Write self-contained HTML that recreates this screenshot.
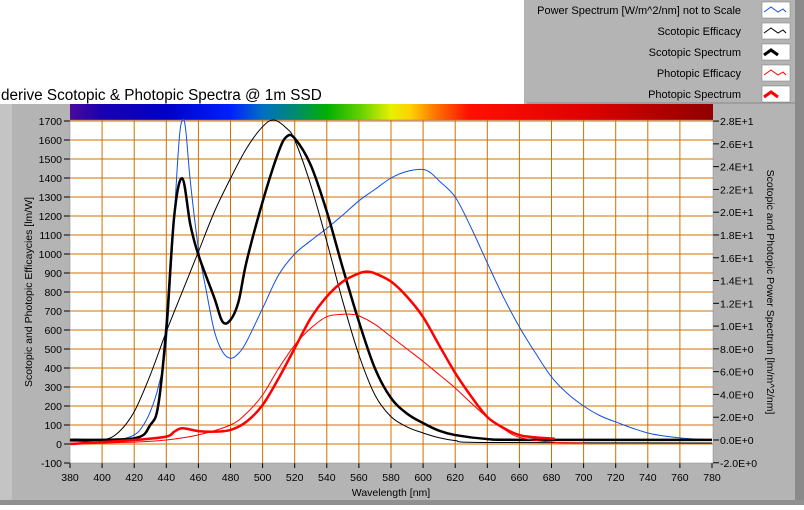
<!DOCTYPE html><html><head><style>
body{margin:0;width:804px;height:505px;overflow:hidden;background:#fff;font-family:"Liberation Sans",sans-serif}
text{font-family:"Liberation Sans",sans-serif}
</style></head><body>
<svg id="s" width="804" height="505" xmlns="http://www.w3.org/2000/svg">
<defs>
<linearGradient id="sp" x1="0" x2="1" y1="0" y2="0">
<stop offset="0" stop-color="#4a0a9a"/><stop offset="0.05" stop-color="#1a00b0"/><stop offset="0.15" stop-color="#0000c8"/>
<stop offset="0.25" stop-color="#0020ff"/><stop offset="0.3" stop-color="#0070c0"/><stop offset="0.35" stop-color="#008a70"/>
<stop offset="0.4" stop-color="#00b000"/><stop offset="0.45" stop-color="#60d000"/><stop offset="0.5" stop-color="#e8f000"/>
<stop offset="0.53" stop-color="#ffd000"/><stop offset="0.57" stop-color="#ff7000"/><stop offset="0.62" stop-color="#ff1000"/>
<stop offset="0.8" stop-color="#e00000"/><stop offset="1" stop-color="#900000"/></linearGradient>
</defs>
<rect x="0" y="104" width="804" height="401" fill="#b4b4b4"/>
<rect x="0" y="104" width="12" height="401" fill="#c4c4c4"/>
<rect x="795" y="104" width="9" height="401" fill="#8a8a8a"/>
<rect x="0" y="500" width="804" height="5" fill="#909090"/>
<rect x="524" y="0" width="280" height="104" fill="#b4b4b4"/>
<rect x="795" y="0" width="9" height="104" fill="#8a8a8a"/>
<line x1="527" y1="103" x2="795" y2="103" stroke="#888"/>
<text x="1" y="100" font-size="15.3">derive Scotopic &amp; Photopic Spectra @ 1m SSD</text>
<g font-size="11" text-anchor="end">
<text x="741" y="14">Power Spectrum [W/m^2/nm] not to Scale</text>
<text x="741" y="35">Scotopic Efficacy</text>
<text x="741" y="56">Scotopic Spectrum</text>
<text x="741" y="77">Photopic Efficacy</text>
<text x="741" y="98">Photopic Spectrum</text>
</g>
<g fill="#fff" stroke="#777" stroke-width="0.5">
<rect x="762" y="2" width="28" height="16"/><rect x="762" y="23" width="28" height="16"/><rect x="762" y="44" width="28" height="16"/><rect x="762" y="65" width="28" height="16"/><rect x="762" y="86" width="28" height="16"/></g>
<g fill="none">
<polyline points="764,12 771,7 778,12 783,9 786,12" stroke="#1050e0"/>
<polyline points="764,33 771,28 778,33 783,30 786,33" stroke="#000"/>
<polyline points="764,55 771,50 778,55" stroke="#000" stroke-width="3"/>
<polyline points="764,75 771,70 778,75 783,72 786,75" stroke="#f00"/>
<polyline points="764,97 771,92 778,97" stroke="#f00" stroke-width="3"/>
</g>
<rect x="70" y="104" width="643" height="16" fill="url(#sp)"/>
<rect x="70" y="120" width="643" height="343" fill="#fff"/>
<g id="grid" stroke="#d07000" stroke-width="1"></g>
<g id="lab" font-size="10.5"></g>
<g id="curves" fill="none"></g>
<text x="391" y="496" font-size="10.5" text-anchor="middle">Wavelength [nm]</text>
<text transform="translate(32,292) rotate(-90)" font-size="10.5" text-anchor="middle">Scotopic and Photopic Efficaycies [lm/W]</text>
<text transform="translate(767,292) rotate(90)" font-size="10.5" text-anchor="middle">Scotopic and Photopic Power Spectrum [lm/m^2/nm]</text>
</svg>
<script>
const NS="http://www.w3.org/2000/svg";
function X(l){return 70+(l-380)*1.605}
function Y(v){return 121+(1700-v)*0.19}
function el(p,t,a,txt){const e=document.createElementNS(NS,t);for(const k in a)e.setAttribute(k,a[k]);if(txt!==undefined)e.textContent=txt;document.getElementById(p).appendChild(e);}
for(let l=400;l<780;l+=20)el("grid","line",{x1:X(l),x2:X(l),y1:120,y2:463});
for(let v=0;v<=1700;v+=100)el("grid","line",{x1:70,x2:713,y1:Y(v),y2:Y(v)});
for(let l=380;l<=780;l+=20){el("lab","line",{x1:X(l),x2:X(l),y1:463,y2:468,stroke:"#000"});el("lab","text",{x:X(l),y:481,"text-anchor":"middle"},l);}
for(let v=-100;v<=1700;v+=100){el("lab","line",{x1:64,x2:70,y1:Y(v),y2:Y(v),stroke:"#000"});el("lab","text",{x:62,y:Y(v)+4,"text-anchor":"end"},v);}
for(let r=-2;r<=28;r+=2){const y=440-r*11.39;el("lab","line",{x1:713,x2:719,y1:y,y2:y,stroke:"#000"});
let s=r>=10||r<=-10?(r/10).toFixed(1)+"E+1":r.toFixed(1)+"E+0";el("lab","text",{x:720,y:y+4},s);}
el("lab","rect",{x:70,y:120,width:643,height:343,fill:"none",stroke:"#888","stroke-width":0.5});
function curve(d,c,w){const P=d.map(p=>[X(p[0]),Y(p[1])]);let s="M"+P[0][0]+","+P[0][1];
for(let i=0;i<P.length-1;i++){const p0=P[Math.max(0,i-1)],p1=P[i],p2=P[i+1],p3=P[Math.min(P.length-1,i+2)];
const t=6;s+=` C${p1[0]+(p2[0]-p0[0])/t},${p1[1]+(p2[1]-p0[1])/t} ${p2[0]-(p3[0]-p1[0])/t},${p2[1]-(p3[1]-p1[1])/t} ${p2[0]},${p2[1]}`;}
el("curves","path",{d:s,stroke:c,"stroke-width":w,"stroke-linejoin":"round"});}
curve([[380,20],[390,12],[400,10],[410,20],[420,48],[425,90],[430,170],[435,300],[440,539],[445,1205],[448,1600],[450,1705],[452,1660],[455,1380],[460,1030],[465,802],[470,592],[475,486],[480,451],[485,477],[490,539],[500,714],[510,890],[520,1000],[530,1070],[540,1135],[550,1205],[560,1280],[570,1340],[580,1400],[590,1435],[600,1445],[605,1425],[610,1385],[620,1300],[630,1137],[640,953],[650,774],[660,616],[670,479],[680,353],[690,265],[700,200],[710,150],[720,116],[740,58],[760,32],[780,20]],"#1050e0",1);
curve([[380,15],[400,21],[410,60],[420,170],[430,363],[440,591],[450,802],[460,1012],[470,1223],[480,1398],[490,1556],[500,1670],[507,1705],[515,1661],[520,1600],[530,1363],[540,1065],[550,749],[560,469],[570,258],[580,144],[590,90],[600,58],[610,33],[620,18],[640,8],[780,5]],"#000",1);
curve([[380,22],[420,30],[430,100],[435,205],[440,609],[445,1205],[450,1398],[455,1153],[460,995],[470,767],[475,644],[480,653],[485,749],[490,960],[500,1275],[510,1539],[515,1618],[520,1609],[530,1468],[540,1223],[550,925],[560,644],[570,398],[580,242],[590,160],[600,110],[610,70],[620,47],[640,26],[660,22],[780,22]],"#000",2.5);
curve([[380,0],[420,10],[440,21],[460,48],[480,100],[490,162],[500,258],[510,398],[520,521],[530,609],[540,670],[550,683],[555,683],[560,675],[570,630],[580,565],[590,500],[600,435],[610,365],[620,295],[630,215],[640,140],[650,80],[660,35],[680,10],[700,5]],"#f00",1);
curve([[380,0],[420,21],[440,39],[445,65],[450,83],[460,68],[470,65],[480,74],[490,118],[500,205],[510,346],[520,504],[530,662],[540,776],[550,855],[560,898],[565,907],[570,898],[580,855],[590,775],[600,668],[610,520],[620,374],[630,250],[640,142],[650,85],[660,47],[670,35],[682,28]],"#f00",2.5);
</script>
</body></html>
